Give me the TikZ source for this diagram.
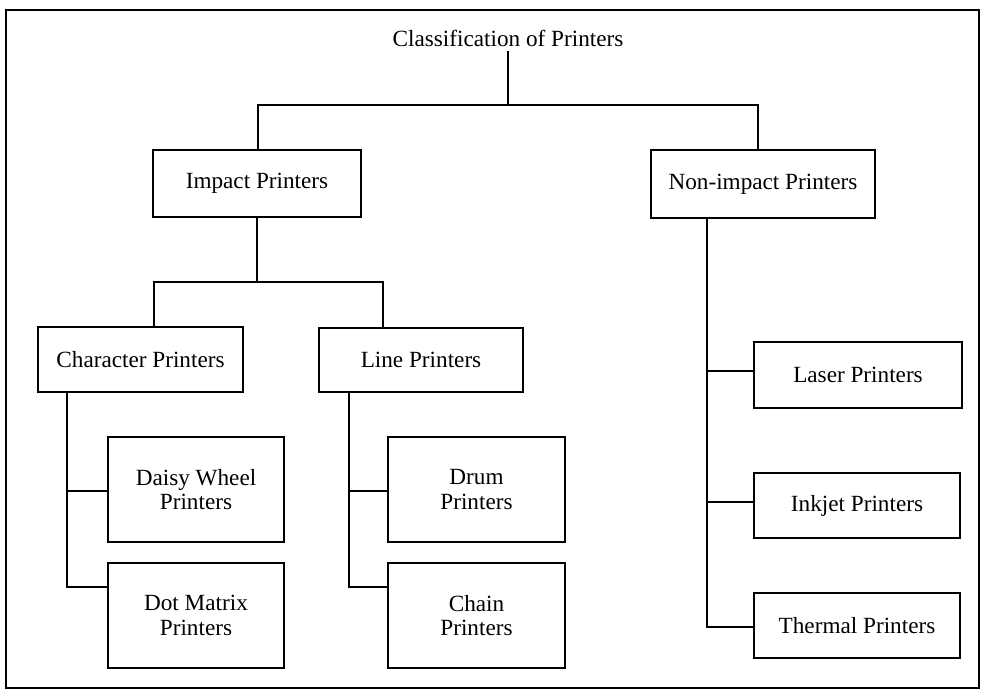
\documentclass[tikz,border=0pt]{standalone}
\usepackage{fontspec}
\setmainfont{Liberation Serif}
\usetikzlibrary{positioning,calc}

\begin{document}
\begin{tikzpicture}[x=0.025cm, y=-0.025cm,
  box/.style={draw, rectangle, line width=1.6pt, align=center, inner sep=2pt,
    font=\fontsize{16.5}{17.5}\selectfont},
  conn/.style={line width=1.3pt}]
\useasboundingbox (0,0) rectangle (981,690);
\draw[line width=0.8pt] (6,10) rectangle (979,688);
\draw[line width=1.4pt] (6,10) -- (979,10);
% top level
\node[font=\fontsize{16.5}{18}\selectfont] (title) at (508,38) {Classification of Printers};
\node[box, minimum width=5.2cm, minimum height=1.68cm] (imp) at (257,183.5) {Impact Printers};
\node[box, minimum width=5.6cm, minimum height=1.7cm] (non) at (763,184) {Non-impact Printers};
\coordinate (j1) at (508,105);
\draw[conn] (title.south) -- (j1);
\draw[conn] ($(imp.north)+(1,0)$) |- (j1) -| ($(non.north)+(-5,0)$);
% impact printers
\node[box, minimum width=5.12cm, minimum height=1.62cm] (chr) at (140.5,359.5) {Character Printers};
\node[box, minimum width=5.1cm, minimum height=1.6cm] (lin) at (421,360) {Line Printers};
\coordinate (j2) at (257,282);
\draw[conn] (imp.south) -- (j2);
\draw[conn] ($(chr.north)+(13.5,0)$) |- (j2) -| ($(lin.north)+(-38,0)$);
\node[box, minimum width=4.4cm, minimum height=2.62cm] (daisy) at (196,489.5) {Daisy Wheel\\Printers};
\node[box, minimum width=4.4cm, minimum height=2.62cm] (dot) at (196,615.5) {Dot Matrix\\Printers};
\node[box, minimum width=4.42cm, minimum height=2.62cm] (drum) at (476.5,489.5) {Drum\\Printers};
\node[box, minimum width=4.42cm, minimum height=2.62cm] (chain) at (476.5,615.5) {Chain\\Printers};
\draw[conn] ($(chr.south west)+(30,0)$) |- ($(daisy.west)+(0,1.5)$);
\draw[conn] ($(chr.south west)+(30,0)$) |- ($(dot.west)+(0,-28.5)$);
\draw[conn] ($(lin.south west)+(31,0)$) |- ($(drum.west)+(0,1.5)$);
\draw[conn] ($(lin.south west)+(31,0)$) |- ($(chain.west)+(0,-28.5)$);
% non-impact printers
\node[box, minimum width=5.2cm, minimum height=1.65cm] (laser) at (858,375) {Laser Printers};
\node[box, minimum width=5.15cm, minimum height=1.62cm] (inkjet) at (857,505.5) {Inkjet Printers};
\node[box, minimum width=5.15cm, minimum height=1.62cm] (thermal) at (857,625.5) {Thermal Printers};
\coordinate (j3) at ($(non.south west)+(57,0)$);
\draw[conn] (j3) |- ($(laser.west)+(0,-4)$);
\draw[conn] (j3) |- ($(inkjet.west)+(0,-3.5)$);
\draw[conn] (j3) |- ($(thermal.west)+(0,1.5)$);
\end{tikzpicture}
\end{document}
